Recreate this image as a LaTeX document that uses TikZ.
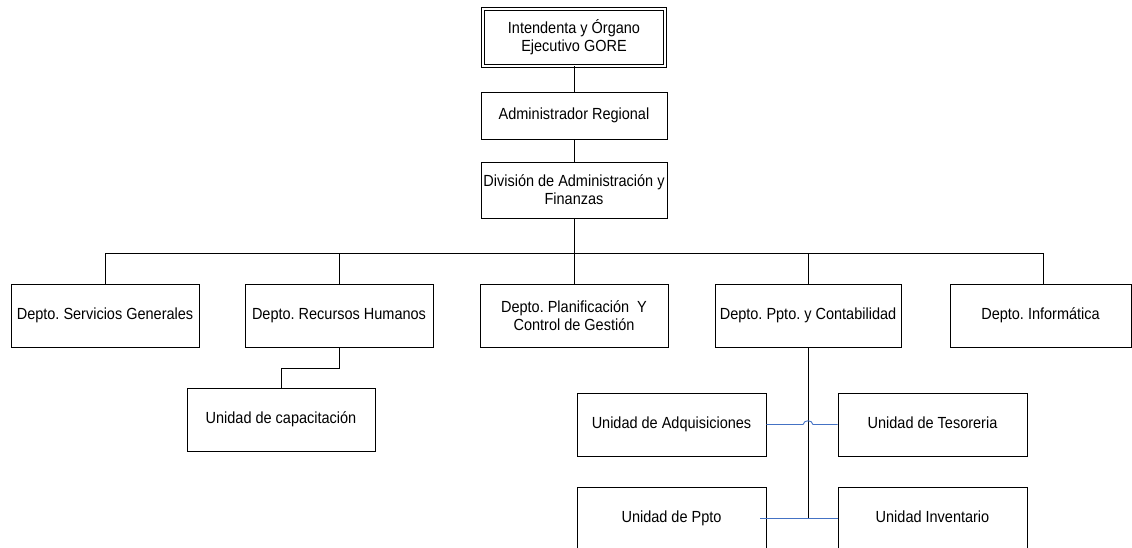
\documentclass[tikz,border=0pt]{standalone}
\usepackage{fontspec}
\setmainfont{Liberation Sans}[FakeStretch=0.9]
\definecolor{linkblue}{RGB}{68,114,196}
\frenchspacing
\begin{document}
\begin{tikzpicture}[x=1pt,y=-1pt,
  box/.style={draw, fill=white, line width=0.9pt, minimum width=186pt, minimum height=63pt,
    inner sep=1pt, align=center, font=\fontsize{16.1}{18}\selectfont},
  one/.style={text height=11.5pt, text depth=3.5pt},
  conn/.style={draw, line width=0.9pt},
  blueconn/.style={draw=linkblue, line width=0.9pt}]
\clip (0,0) rectangle (1132,548);
\useasboundingbox (0,0) rectangle (1132,548);
% top
\node[box, double, double distance=2.6pt, minimum width=182pt, minimum height=57pt] (top) at (574,37.5)
  {Intendenta y Órgano\\Ejecutivo GORE};
\node[box, one, minimum height=47pt] (adm) at (574,115.5) {Administrador Regional};
\node[box, minimum height=56pt] (div) at (574,190) {División de Administración y\\Finanzas};
% departments
\node[box, one, minimum width=188pt] (sg) at (105,315.5) {Depto. Servicios Generales};
\node[box, one, minimum width=188pt] (rh) at (339,315.5) {Depto. Recursos Humanos};
\node[box, minimum width=188pt] (pl) at (574,315.5) {Depto. Planificación~~Y\\Control de Gestión};
\node[box, one, minimum width=186pt] (pc) at (808,315.5) {Depto. Ppto. y Contabilidad};
\node[box, one, minimum width=181pt] (inf) at (1040.5,315.5) {Depto. Informática};
% units
\node[box, one, minimum width=188pt] (cap) at (281,419.5) {Unidad de capacitación};
\node[box, one, minimum width=189pt] (adq) at (671.5,424.5) {Unidad de Adquisiciones};
\node[box, one, minimum width=189pt] (tes) at (932.5,424.5) {Unidad de Tesoreria};
\node[box, one, minimum width=189pt] (upp) at (671.5,518.5) {Unidad de Ppto};
\node[box, one, minimum width=189pt] (inv) at (932.5,518.5) {Unidad Inventario};
% connectors
\path[conn] (top.south) -- (adm.north);
\path[conn] (adm.south) -- (div.north);
\coordinate (bar) at (574,253);
\path[conn] (div.south) -- (bar);
\path[conn] (bar) -| (sg.north);
\path[conn] (bar) -| (rh.north);
\path[conn] (bar) -- (pl.north);
\path[conn] (bar) -| (pc.north);
\path[conn] (bar) -| ([xshift=2.5pt]inf.north);
\coordinate (rhmid) at (339,368);
\path[conn] (rh.south) -- (rhmid) -| (cap.north);
\path[conn] (pc.south) -- (pc.south |- inv.west);
\coordinate (h1) at (803,424.5);
\coordinate (h2) at (813,424.5);
\path[blueconn] (adq.east) -- (h1) .. controls +(1,-5) and +(-1,-5) .. (h2) -- (tes.west);
\path[blueconn] ([xshift=-6pt]upp.east) -- (inv.west);
\end{tikzpicture}
\end{document}
